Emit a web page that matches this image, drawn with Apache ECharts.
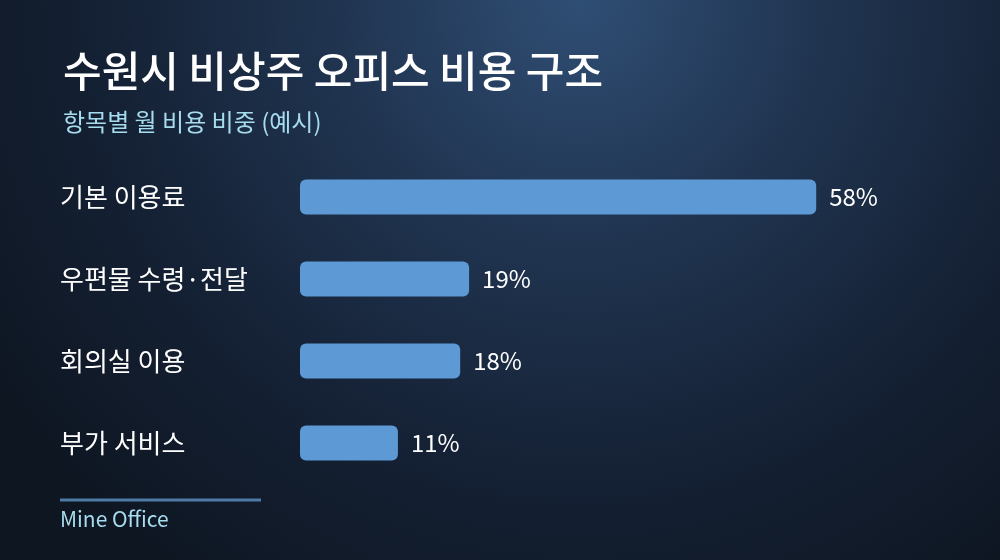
<!DOCTYPE html>
<html>
<head>
<meta charset="utf-8">
<script src="https://cdn.jsdelivr.net/npm/echarts@6/dist/echarts.min.js"></script>
<style>
html,body{margin:0;padding:0;width:1000px;height:560px;overflow:hidden;background:#111b2a;}
#c{width:1000px;height:560px;}
</style>
</head>
<body>
<div id="c"></div>
<script>
const categories = ['기본 이용료', '우편물 수령·전달', '회의실 이용', '부가 서비스'];
const values = [58, 19, 18, 11];
const titleText = '수원시 비상주 오피스 비용 구조';
const subtitleText = '항목별 월 비용 비중 (예시)';
const footerText = 'Mine Office';

const FONT = '"Noto Sans CJK KR", "Noto Sans", sans-serif';
const chart = echarts.init(document.getElementById('c'));
chart.setOption({
  backgroundColor: {
    type: 'radial', x: 0.58, y: 0.0, r: 1.25,
    colorStops: [
      {offset: 0, color: '#2f4e74'},
      {offset: 0.35, color: '#203450'},
      {offset: 0.7, color: '#142033'},
      {offset: 1, color: '#0e1622'}
    ]
  },
  title: {
    text: titleText,
    subtext: subtitleText,
    left: 58, top: 45,
    itemGap: 18,
    textStyle: {color: '#ffffff', fontSize: 42, fontWeight: 500, fontFamily: FONT},
    subtextStyle: {color: '#a6dcee', fontSize: 24, fontFamily: FONT}
  },
  grid: {left: 300, top: 156, width: 534, height: 328},
  xAxis: {type: 'value', min: 0, max: 60, show: false},
  yAxis: {
    type: 'category', data: categories, inverse: true,
    axisLine: {show: false}, axisTick: {show: false},
    axisLabel: {
      align: 'left', margin: 240, color: '#ffffff',
      fontSize: 26, fontFamily: FONT
    }
  },
  series: [{
    type: 'bar', data: values, barWidth: 35,
    itemStyle: {color: '#5d9ad5', borderRadius: 6},
    label: {
      show: true, position: 'right', distance: 13,
      formatter: '{c}%', color: '#ffffff', fontSize: 24, fontFamily: FONT
    },
    silent: true
  }],
  graphic: [
    {type: 'rect', shape: {x: 60, y: 498.5, width: 201, height: 3}, style: {fill: '#4f7aa6'}},
    {type: 'text', left: 60, top: 509, style: {text: footerText, fill: '#a6dcee', fontSize: 21, fontFamily: FONT}}
  ]
});
</script>
</body>
</html>
